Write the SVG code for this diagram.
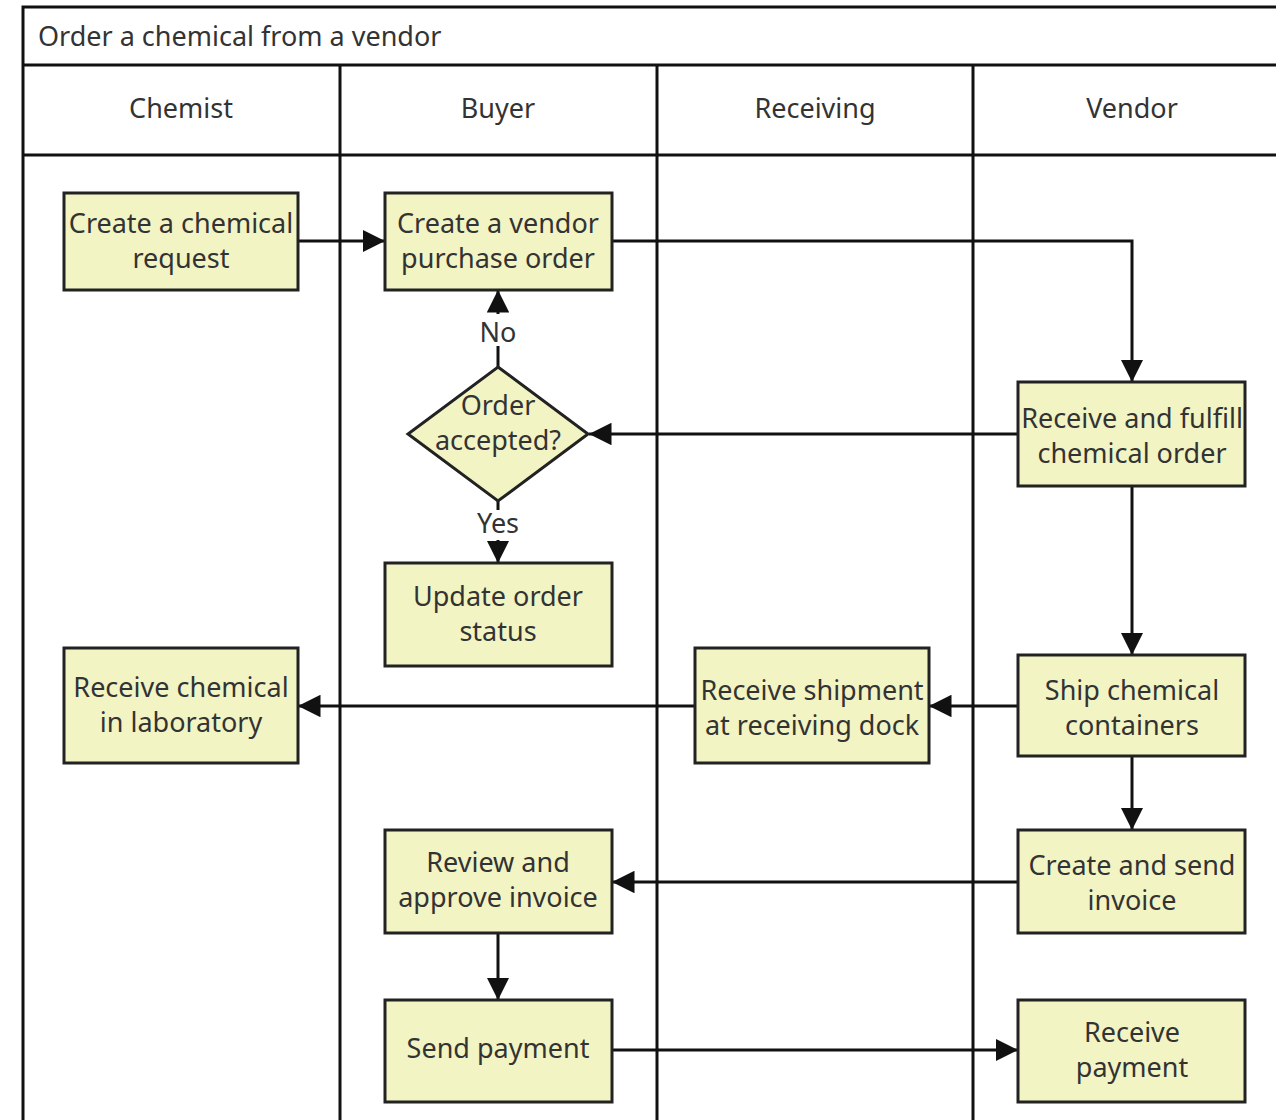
<svg xmlns="http://www.w3.org/2000/svg" width="1276" height="1120" viewBox="0 0 1276 1120">
<defs>
<style>
.lane{fill:none;stroke:#111;stroke-width:3}
.box{fill:#f2f4c4;stroke:#222;stroke-width:3}
.t{font-family:"Noto Sans","Open Sans",sans-serif;font-size:27px;fill:#333;text-anchor:middle}
.tl{font-family:"Noto Sans","Open Sans",sans-serif;font-size:27px;fill:#333}
.c{fill:none;stroke:#111;stroke-width:3}
</style>
<marker id="ah" viewBox="0 0 10 10" refX="10" refY="5" markerWidth="7.5" markerHeight="7.5" markerUnits="strokeWidth" orient="auto">
<path d="M0,0 L10,5 L0,10 z" fill="#111"/>
</marker>
</defs>
<rect width="1276" height="1120" fill="#fff"/>
<g id="frame">
<path class="lane" d="M23,1120 V7 H1290 M23,65 H1290 M23,155 H1290 M340,65 V1120 M657,65 V1120 M973,65 V1120"/>
<text class="tl" x="38" y="46">Order a chemical from a vendor</text>
<text class="t" x="181" y="118">Chemist</text>
<text class="t" x="498" y="118">Buyer</text>
<text class="t" x="815" y="118">Receiving</text>
<text class="t" x="1132" y="118">Vendor</text>
</g>
<g id="connectors">
<path class="c" marker-end="url(#ah)" d="M298,241 H385"/>
<path class="c" marker-end="url(#ah)" d="M612,241 H1132 V382"/>
<path class="c" marker-end="url(#ah)" d="M1018,434 H589"/>
<path class="c" d="M498,367 V346"/>
<path class="c" marker-end="url(#ah)" d="M498,314 V290"/>
<path class="c" d="M498,501 V510"/>
<path class="c" marker-end="url(#ah)" d="M498,540 V563"/>
<path class="c" marker-end="url(#ah)" d="M1132,486 V655"/>
<path class="c" marker-end="url(#ah)" d="M1018,706 H929"/>
<path class="c" marker-end="url(#ah)" d="M695,706 H298"/>
<path class="c" marker-end="url(#ah)" d="M1132,756 V830"/>
<path class="c" marker-end="url(#ah)" d="M1018,882 H612"/>
<path class="c" marker-end="url(#ah)" d="M498,933 V1000"/>
<path class="c" marker-end="url(#ah)" d="M612,1050 H1018"/>
<text class="t" x="498" y="342">No</text>
<text class="t" x="498" y="533">Yes</text>
</g>
<g id="n1"><rect class="box" x="64" y="193" width="234" height="97"/><text class="t" x="181" y="233">Create a chemical</text><text class="t" x="181" y="268">request</text></g>
<g id="n2"><rect class="box" x="385" y="193" width="227" height="97"/><text class="t" x="498" y="233">Create a vendor</text><text class="t" x="498" y="268">purchase order</text></g>
<g id="n3"><path class="box" d="M498,367 L588,434 L498,501 L408,434 z"/><text class="t" x="498" y="415">Order</text><text class="t" x="498" y="450">accepted?</text></g>
<g id="n4"><rect class="box" x="385" y="563" width="227" height="103"/><text class="t" x="498" y="606">Update order</text><text class="t" x="498" y="641">status</text></g>
<g id="n5"><rect class="box" x="1018" y="382" width="227" height="104"/><text class="t" x="1132" y="428">Receive and fulfill</text><text class="t" x="1132" y="463">chemical order</text></g>
<g id="n6"><rect class="box" x="64" y="648" width="234" height="115"/><text class="t" x="181" y="697">Receive chemical</text><text class="t" x="181" y="732">in laboratory</text></g>
<g id="n7"><rect class="box" x="695" y="648" width="234" height="115"/><text class="t" x="812" y="700">Receive shipment</text><text class="t" x="812" y="735">at receiving dock</text></g>
<g id="n8"><rect class="box" x="1018" y="655" width="227" height="101"/><text class="t" x="1132" y="700">Ship chemical</text><text class="t" x="1132" y="735">containers</text></g>
<g id="n9"><rect class="box" x="385" y="830" width="227" height="103"/><text class="t" x="498" y="872">Review and</text><text class="t" x="498" y="907">approve invoice</text></g>
<g id="n10"><rect class="box" x="1018" y="830" width="227" height="103"/><text class="t" x="1132" y="875">Create and send</text><text class="t" x="1132" y="910">invoice</text></g>
<g id="n11"><rect class="box" x="385" y="1000" width="227" height="102"/><text class="t" x="498" y="1058">Send payment</text></g>
<g id="n12"><rect class="box" x="1018" y="1000" width="227" height="102"/><text class="t" x="1132" y="1042">Receive</text><text class="t" x="1132" y="1077">payment</text></g>
</svg>
